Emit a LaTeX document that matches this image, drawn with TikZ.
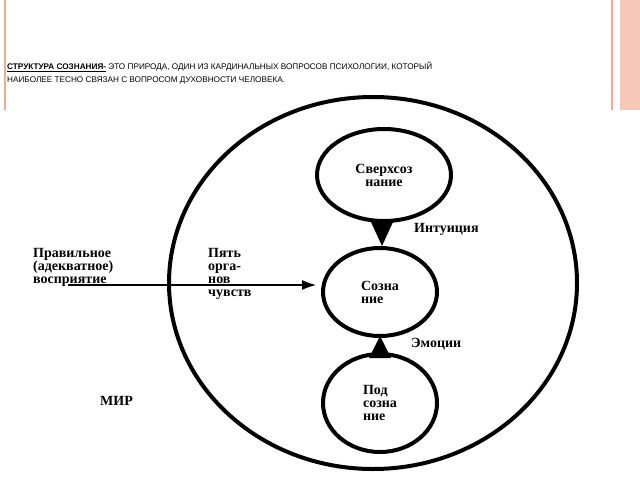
\documentclass[tikz,border=0pt]{standalone}
\usepackage{fontspec}
\setmainfont{Liberation Serif}
\newfontfamily\titlefont{Liberation Sans}
\usetikzlibrary{positioning}
\usetikzlibrary{arrows,arrows.meta}
\definecolor{slidepink}{RGB}{240,170,150}
\definecolor{barpink}{RGB}{246,200,185}

\begin{document}
\begin{tikzpicture}[x=1pt, y=-1pt, >=latex,
    lbl/.style={font=\bfseries\fontsize{14}{13}\selectfont, align=left, inner sep=0pt},
    ring/.style={line width=4pt}]

    \useasboundingbox (0,0) rectangle (640,480);
    % Rahmen
    \fill[barpink] (620,0) rectangle (640,110);
    \draw[slidepink, line width=1.5pt] (612,0) -- (612,110);
    \draw[slidepink, line width=1.5pt] (5,0) -- (5,110);
    % Titel
    \node[anchor=north west, align=left, inner sep=0pt, font=\titlefont\fontsize{8.2}{13}\selectfont] (title) at (7,62)
        {\underline{\textbf{СТРУКТУРА СОЗНАНИЯ-}} ЭТО ПРИРОДА, ОДИН ИЗ КАРДИНАЛЬНЫХ ВОПРОСОВ ПСИХОЛОГИИ, КОТОРЫЙ\\
         НАИБОЛЕЕ ТЕСНО СВЯЗАН С ВОПРОСОМ ДУХОВНОСТИ ЧЕЛОВЕКА.};
    % Kreise
    \draw[ring] (373,283) ellipse (204 and 186);
    \draw[ring] (384,175) ellipse (67 and 46) node[lbl, align=center] (super) {Сверхсоз\\нание};
    \draw[ring] (380,292) ellipse (57 and 44) node[lbl] (mind) {Созна\\ние};
    \draw[ring] (380,403) ellipse (57 and 49) node[lbl] (sub) {Под\\созна\\ние};
    % Pfeile
    \fill (371,222) -- (393,222) -- (382,246) -- cycle;
    \fill (369,358) -- (391,358) -- (380,336) -- cycle;
    \coordinate (start) at (68,285);
    \coordinate (tip) at (316,285);
    \draw[-{Latex[length=14pt,width=10pt]}, line width=1.2pt] (start) -- (tip);
    % Texte
    \node[lbl, anchor=north west] (percept) at (33,248) {Правильное\\(адекватное)\\восприятие};
    \node[lbl, anchor=north west] (senses) at (208,248) {Пять\\орга-\\нов\\чувств};
    \node[lbl, anchor=west] (intu) at (414,229) {Интуиция};
    \node[lbl, anchor=west] (emo) at (411,344) {Эмоции};
    \node[lbl, anchor=west] (world) at (100,401) {МИР};
\end{tikzpicture}
\end{document}
